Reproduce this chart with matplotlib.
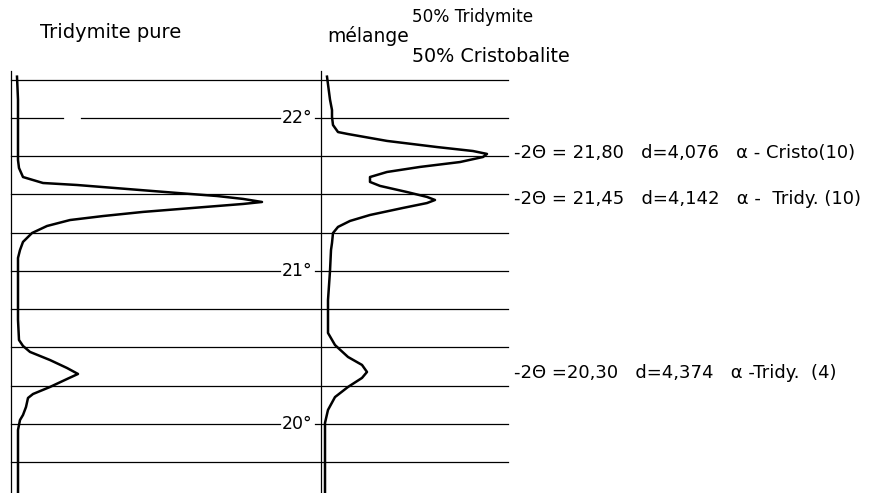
import matplotlib.pyplot as plt

# 2-theta (deg) vs recorder deflection
pure_theta = [22.27, 22.12, 21.85, 21.725, 21.673, 21.614, 21.575, 21.562, 21.536, 21.510,
              21.490, 21.471, 21.451, 21.438, 21.412, 21.386, 21.359, 21.333, 21.294,
              21.248, 21.190, 21.137, 21.085, 20.90, 20.680, 20.549, 20.510, 20.471,
              20.418, 20.366, 20.327, 20.294, 20.242, 20.196, 20.170, 20.111, 20.059,
              20.026, 19.961, 19.895, 19.70, 19.55]
pure_int = [-1, 0, 0, 0, 1, 5, 25, 59, 109, 159,
            199, 225, 244, 225, 175, 125, 85, 52, 29,
            14, 5, 2, 0, 0, 0, 1, 5, 12,
            32, 49, 60, 49, 32, 15, 10, 8, 5,
            2, 0, 0, 0, 0]

mix_theta = [22.27, 22.12, 22.052, 22.007, 21.954, 21.908, 21.895, 21.850, 21.810, 21.784,
             21.765, 21.745, 21.712, 21.680, 21.647, 21.614, 21.582, 21.556, 21.516,
             21.484, 21.464, 21.444, 21.412, 21.366, 21.327, 21.288, 21.248, 21.183,
             21.137, 21.00, 20.810, 20.680, 20.595, 20.516, 20.438, 20.386, 20.340,
             20.301, 20.242, 20.176, 20.092, 20.007, 19.876, 19.765, 19.55]
mix_int = [-1, 2, 4, 4, 5, 10, 20, 59, 109, 145,
           159, 155, 132, 92, 59, 42, 42, 52, 79,
           99, 107, 99, 75, 42, 22, 10, 5, 4,
           3, 2, 0, 0, 0, 7, 20, 34, 39,
           34, 20, 7, 0, -3, -3, -3, -3]

grid_theta = [22.25, 22.0, 21.75, 21.5, 21.25, 21.0, 20.75, 20.5, 20.25, 20.0, 19.75]
deg_labels = [22, 21, 20]

peak_theta = [21.77, 21.47, 20.33]
peak_text = ["-2Θ = 21,80   d=4,076   α - Cristo(10)",
             "-2Θ = 21,45   d=4,142   α -  Tridy. (10)",
             "-2Θ =20,30   d=4,374   α -Tridy.  (4)"]

W, H = 871, 493
fig = plt.figure(figsize=(W / 100, H / 100), dpi=100)
ax = fig.add_axes([0, 0, 1, 1])
ax.set_xlim(0, W)
ax.set_ylim(19.549, 22.771)
ax.axis('off')

k = dict(color='black', lw=0.9)
# horizontal chart lines, broken where the degree labels sit
for t in grid_theta:
    if int(round(t * 4)) % 4 == 0:
        if t == 22.0:
            ax.plot([11, 63], [t, t], **k)
            ax.plot([81, 280], [t, t], **k)
        else:
            ax.plot([11, 280], [t, t], **k)
        ax.plot([315, 508], [t, t], **k)
    else:
        ax.plot([11, 508], [t, t], **k)

for d in deg_labels:
    ax.text(297, d, f"{d}°", ha='center', va='center', fontsize=12.5)

# frame lines of both recordings
ax.plot([11, 11], [19.549, 22.31], color='black', lw=0.9)
ax.plot([321, 321], [19.549, 22.31], color='black', lw=0.9)

# traces
ax.plot([18 + v for v in pure_int], pure_theta, color='black', lw=1.8,
        solid_joinstyle='round')
ax.plot([328 + v for v in mix_int], mix_theta, color='black', lw=1.8,
        solid_joinstyle='round')

for t, s in zip(peak_theta, peak_text):
    ax.text(514, t, s, ha='left', va='center', fontsize=13)

fig.text(40 / W, 1 - 33 / H, "Tridymite pure", ha='left', va='center', fontsize=14)
fig.text(327 / W, 1 - 36 / H, "mélange", ha='left', va='center', fontsize=13.5)
fig.text(412 / W, 1 - 17 / H, "50% Tridymite", ha='left', va='center', fontsize=12.2)
fig.text(412 / W, 1 - 57 / H, "50% Cristobalite", ha='left', va='center', fontsize=13.8)

fig.savefig('out.png', dpi=100, facecolor='white')
